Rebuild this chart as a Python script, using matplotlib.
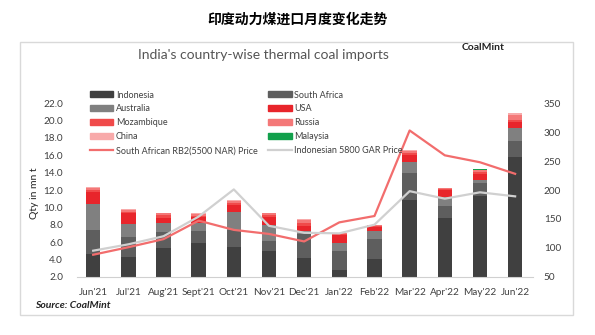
import numpy as np
import matplotlib
matplotlib.use('Agg')
import matplotlib.pyplot as plt
from matplotlib.patches import Rectangle
from matplotlib.lines import Line2D
from matplotlib.ticker import StrMethodFormatter

plt.rcParams['font.family'] = ['Lato', 'DejaVu Sans']

months = ["Jun'21", "Jul'21", "Aug'21", "Sept'21", "Oct'21", "Nov'21", "Dec'21",
          "Jan'22", "Feb'22", "Mar'22", "Apr'22", "May'22", "Jun'22"]

# import volumes in mn t
indonesia    = [4.6, 4.3, 5.3, 5.85, 5.4, 5.0, 4.2, 2.8, 4.0, 10.85, 8.8, 11.3, 15.85]
south_africa = [2.8, 2.3, 1.9, 1.45, 2.0, 1.1, 2.7, 2.2, 2.4, 3.15, 1.4, 1.45, 1.85]
australia    = [3.0, 1.5, 1.0, 0.95, 2.05, 1.85, 0.4, 0.9, 0.85, 1.2, 1.05, 0.4, 1.5]
usa          = [1.4, 1.2, 0.6, 0.6, 0.85, 0.95, 0.6, 0.9, 0.5, 0.85, 0.75, 0.65, 0.6]
mozambique   = [0.2, 0.2, 0.3, 0.2, 0.2, 0.2, 0.3, 0.1, 0.1, 0.25, 0.1, 0.3, 0.3]
russia       = [0.2, 0.2, 0.2, 0.2, 0.25, 0.2, 0.3, 0.1, 0.1, 0.2, 0.1, 0.25, 0.5]
china        = [0.1, 0.1, 0.1, 0.05, 0.15, 0.1, 0.2, 0.0, 0.0, 0.1, 0.0, 0.0, 0.25]
malaysia     = [0.0, 0.0, 0.0, 0.0, 0.0, 0.0, 0.0, 0.0, 0.0, 0.0, 0.0, 0.1, 0.0]

# prices (right axis)
sa_price   = [88, 101, 115, 147, 131, 124, 111, 144, 155, 303, 260, 248, 228]
indo_price = [95, 106, 120, 154, 201, 138, 126, 125, 140, 198, 185, 196, 189]

series = [
    ('Indonesia', indonesia, '#404040'),
    ('South Africa', south_africa, '#5e5e5e'),
    ('Australia', australia, '#808080'),
    ('USA', usa, '#e8252b'),
    ('Mozambique', mozambique, '#f04a4a'),
    ('Russia', russia, '#f47878'),
    ('China', china, '#f8aaaa'),
    ('Malaysia', malaysia, '#12a04c'),
]
sa_color = '#f26d6d'
indo_color = '#d0d0d0'
txt = '#404040'

fig = plt.figure(figsize=(5.95, 3.35), dpi=100)
fig.patches.append(Rectangle((20/595, 1-315/335), 553/595, 273/335, transform=fig.transFigure,
                             fill=False, edgecolor='#d9d9d9', linewidth=1))

fig.text(0.5, 1-20/335, '印度动力煤进口月度变化走势', ha='center', va='center',
         fontsize=10, fontweight='bold', family=['Noto Sans CJK SC', 'DejaVu Sans'])
fig.text(263/595, 1-55/335, "India's country-wise thermal coal imports", ha='center', va='center',
         fontsize=10, color='#555555')
fig.text(505/595, 1-48/335, 'CoalMint', ha='right', va='center', fontsize=7.5,
         fontweight='bold', color='#222222')

ax = fig.add_axes([77/595, 1-276.7/335, (532.7-77)/595, (276.7-103.3)/335])
x = np.arange(len(months))
bottom = np.zeros(len(months))
handles = {}
for name, vals, col in series:
    ax.bar(x, vals, width=0.41, bottom=bottom, color=col, label=name, zorder=2)
    handles[name] = Rectangle((0, 0), 1, 1, color=col)
    bottom += np.array(vals)

ax.set_xlim(-0.46, 12.5)
ax.set_ylim(2, 22)
ax.set_yticks(np.arange(2, 23, 2))
ax.yaxis.set_major_formatter(StrMethodFormatter('{x:.1f}'))
ax.set_xticks(x)
ax.set_xticklabels(months)
for s in ['top', 'right', 'left']:
    ax.spines[s].set_visible(False)
ax.spines['bottom'].set_color('#d0d0d0')
ax.tick_params(axis='both', length=0, labelsize=7.2, colors=txt)
ax.tick_params(axis='x', pad=8)
ax.tick_params(axis='y', pad=10)
ax.set_ylabel('Qty in mn t', fontsize=7.5, color='#222222')
ax.yaxis.set_label_coords(-38/455.7, 0.48)

ax2 = ax.twinx()
ax2.plot(x, sa_price, color=sa_color, linewidth=1.6, zorder=3)
ax2.plot(x, indo_price, color=indo_color, linewidth=1.6, zorder=3)
ax2.set_ylim(50, 350)
ax2.set_yticks(np.arange(50, 351, 50))
for s in ['top', 'right', 'left', 'bottom']:
    ax2.spines[s].set_visible(False)
ax2.tick_params(axis='y', length=0, labelsize=7.2, colors=txt, pad=8)

sa_h = Line2D([0], [0], color=sa_color, linewidth=1.6)
indo_h = Line2D([0], [0], color=indo_color, linewidth=1.6)
order = ['Indonesia', 'Australia', 'Mozambique', 'China']
order2 = ['South Africa', 'USA', 'Russia', 'Malaysia']
hs = [handles[n] for n in order] + [sa_h] + [handles[n] for n in order2] + [indo_h]
ls = order + ['South African RB2(5500 NAR) Price'] + order2 + ['Indonesian 5800 GAR Price']
fig.legend(hs, ls, ncol=2, loc='upper left', bbox_to_anchor=(85/595, 1-86/335),
           frameon=False, fontsize=6.5, labelcolor=txt, handlelength=2.6, handleheight=0.6,
           handletextpad=0.3, columnspacing=1.2, labelspacing=0.55, borderpad=0)

fig.text(35/595, 1-305/335, 'Source: CoalMint', ha='left', va='center', fontsize=7.5,
         fontweight='bold', style='italic', color='#222222')

fig.savefig('out.png', dpi=100)
